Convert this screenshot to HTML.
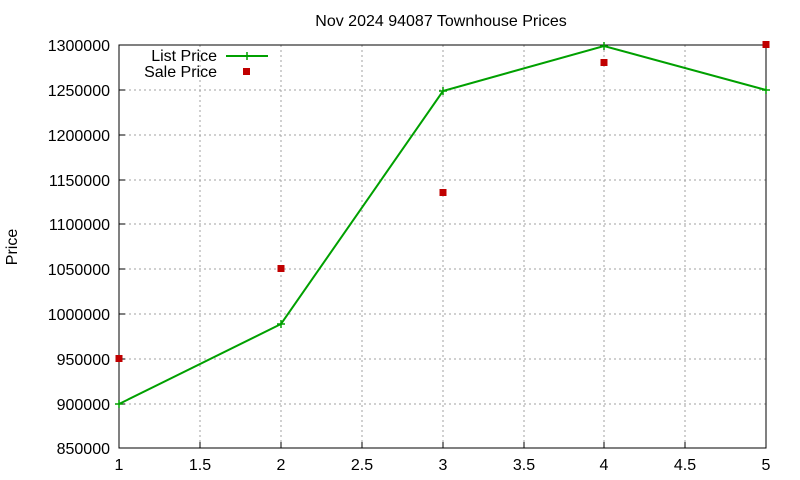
<!DOCTYPE html>
<html><head><style>body{margin:0;background:#fff}svg{display:block}text{font-family:"Liberation Sans",sans-serif;font-size:16px;fill:#000}</style></head>
<body>
<svg width="800" height="480" xmlns="http://www.w3.org/2000/svg">
<rect width="800" height="480" fill="#fff"/>
<g stroke="#a0a0a0" stroke-width="1" stroke-dasharray="2,3">
<line x1="119" y1="404" x2="766" y2="404"/><line x1="119" y1="359" x2="766" y2="359"/><line x1="119" y1="314" x2="766" y2="314"/><line x1="119" y1="269" x2="766" y2="269"/><line x1="119" y1="224" x2="766" y2="224"/><line x1="119" y1="180" x2="766" y2="180"/><line x1="119" y1="135" x2="766" y2="135"/><line x1="119" y1="90" x2="766" y2="90"/>
<line x1="200" y1="45" x2="200" y2="448"/><line x1="281" y1="45" x2="281" y2="448"/><line x1="362" y1="45" x2="362" y2="448"/><line x1="443" y1="45" x2="443" y2="448"/><line x1="524" y1="45" x2="524" y2="448"/><line x1="604" y1="45" x2="604" y2="448"/><line x1="685" y1="45" x2="685" y2="448"/>
</g>
<rect x="119" y="45" width="647" height="403" fill="none" stroke="#000" stroke-width="1"/>
<g stroke="#000">
<line x1="119" y1="404" x2="125" y2="404"/><line x1="119" y1="359" x2="125" y2="359"/><line x1="119" y1="314" x2="125" y2="314"/><line x1="119" y1="269" x2="125" y2="269"/><line x1="119" y1="224" x2="125" y2="224"/><line x1="119" y1="180" x2="125" y2="180"/><line x1="119" y1="135" x2="125" y2="135"/><line x1="119" y1="90" x2="125" y2="90"/>
<line x1="200" y1="448" x2="200" y2="442"/><line x1="281" y1="448" x2="281" y2="442"/><line x1="362" y1="448" x2="362" y2="442"/><line x1="443" y1="448" x2="443" y2="442"/><line x1="524" y1="448" x2="524" y2="442"/><line x1="604" y1="448" x2="604" y2="442"/><line x1="685" y1="448" x2="685" y2="442"/>
</g>
<g text-anchor="end">
<text x="110" y="454">850000</text><text x="110" y="410">900000</text><text x="110" y="365">950000</text><text x="110" y="320">1000000</text><text x="110" y="275">1050000</text><text x="110" y="230">1100000</text><text x="110" y="186">1150000</text><text x="110" y="141">1200000</text><text x="110" y="96">1250000</text><text x="110" y="51">1300000</text>
</g>
<g text-anchor="middle">
<text x="119" y="470">1</text><text x="200" y="470">1.5</text><text x="281" y="470">2</text><text x="362" y="470">2.5</text><text x="443" y="470">3</text><text x="524" y="470">3.5</text><text x="604" y="470">4</text><text x="685" y="470">4.5</text><text x="766" y="470">5</text>
<text x="441" y="26">Nov 2024 94087 Townhouse Prices</text>
<text transform="translate(17,247) rotate(-90)">Price</text>
</g>
<text x="217" y="61" text-anchor="end">List Price</text>
<text x="217" y="77" text-anchor="end">Sale Price</text>
<line x1="226" y1="56" x2="268" y2="56" stroke="#00a000" stroke-width="2"/>
<path d="M243 56h8M247 52v8" stroke="#00a000" stroke-width="1.5"/>
<rect x="243" y="68" width="7" height="7" fill="#c00000"/>
<polyline points="119,404 281,324 443,91 604,46 766,90" fill="none" stroke="#00a000" stroke-width="2"/>
<g stroke="#00a000" stroke-width="1.5">
<path d="M115 404h8M119 400v8"/><path d="M277 324h8M281 320v8"/><path d="M439 91h8M443 87v8"/><path d="M600 46h8M604 42v8"/><path d="M762 90h8M766 86v8"/>
</g>
<g fill="#c00000">
<rect x="115.5" y="355" width="7" height="7"/><rect x="277.5" y="265" width="7" height="7"/><rect x="439.5" y="189" width="7" height="7"/><rect x="600.5" y="59" width="7" height="7"/><rect x="762.5" y="41" width="7" height="7"/>
</g>
</svg>
</body></html>
